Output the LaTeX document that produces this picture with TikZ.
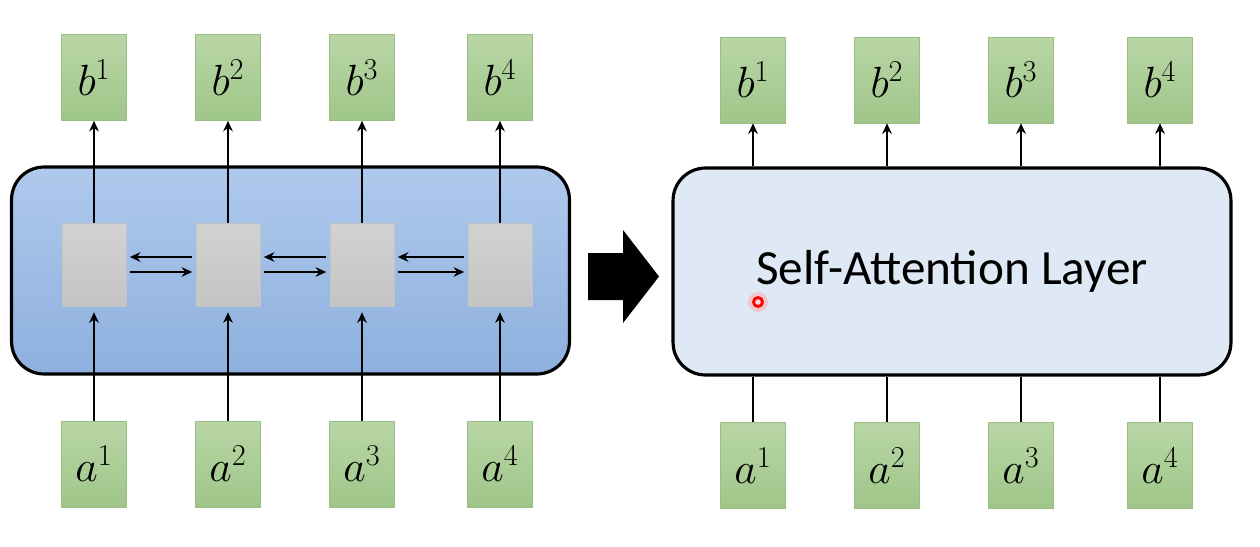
\documentclass[tikz,border=0pt]{standalone}
\usepackage{fontspec}
\setmainfont{Carlito}
\usepackage{amsmath}
\usepackage{xcolor}
\usetikzlibrary{arrows.meta}

\definecolor{vectop}{HTML}{B8D6A5}
\definecolor{vecbot}{HTML}{9FC68A}
\definecolor{vecline}{HTML}{9DBE83}
\definecolor{celltop}{HTML}{D2D2D2}
\definecolor{cellbot}{HTML}{C4C4C4}
\definecolor{rnntop}{HTML}{AFC9EC}
\definecolor{rnnbot}{HTML}{8DB0DE}
\definecolor{attnfill}{HTML}{DFE9F6}

\begin{document}
\begin{tikzpicture}[x=0.02cm,y=-0.02cm,>={Stealth[length=6pt,width=5.5pt]},
  vec/.style={draw=vecline,top color=vectop,bottom color=vecbot,minimum width=1.3cm,minimum height=1.72cm,inner sep=0pt,font=\fontsize{27}{30}\selectfont},
  cell/.style={draw=cellbot,top color=celltop,bottom color=cellbot,minimum width=1.28cm,minimum height=1.66cm,inner sep=0pt},
  panel/.style={draw,line width=1.8pt,rounded corners=0.65cm,minimum width=11.16cm,minimum height=4.14cm},
  wire/.style={line width=1.4pt}]
 \useasboundingbox (0,0) rectangle (1260,547);
 % left: recurrent layer
 \node[panel,top color=rnntop,bottom color=rnnbot] (rnn) at (290.5,270.5) {};
 \foreach \i/\x in {1/94,2/228,3/362,4/500} {
  \node[cell] (g\i) at (\x,264.5) {};
  \node[vec] (lb\i) at (\x,77.5) {$b^{\i}$};
  \node[vec] (la\i) at (\x,464) {$a^{\i}$};
  \draw[wire,->] (la\i) -- ([yshift=-0.12cm]g\i.south);
  \draw[wire,->] (g\i) -- (lb\i);
 }
 \foreach \i/\j in {1/2,2/3,3/4} {
  \draw[wire,->,shorten <=2pt,shorten >=2pt] ([yshift=0.15cm]g\j.west) -- ([yshift=0.15cm]g\i.east);
  \draw[wire,->,shorten <=2pt,shorten >=2pt] ([yshift=-0.15cm]g\i.east) -- ([yshift=-0.15cm]g\j.west);
 }
 % big arrow
 \fill (588,253) -- (623,253) -- (623,230) -- (659,276.5) -- (623,323) -- (623,300) -- (588,300) -- cycle;
 % right: self-attention layer
 \node[panel,fill=attnfill,font=\fontsize{28}{32}\selectfont] (sa) at (952,271.5) {Self-Attention Layer};
 \foreach \i/\x in {1/753,2/887,3/1021,4/1160} {
  \node[vec] (rb\i) at (\x,80) {$b^{\i}$};
  \node[vec] (ra\i) at (\x,465.5) {$a^{\i}$};
  \draw[wire,->] (rb\i |- sa.north) -- (rb\i);
  \draw[wire] (ra\i) -- (ra\i |- sa.south);
 }
 % pointer
 \fill[red!35,opacity=0.5] (758,302) circle (0.2cm);
 \draw[red,line width=1.6pt,fill=red!15] (758,302) circle (0.09cm);
\end{tikzpicture}
\end{document}
